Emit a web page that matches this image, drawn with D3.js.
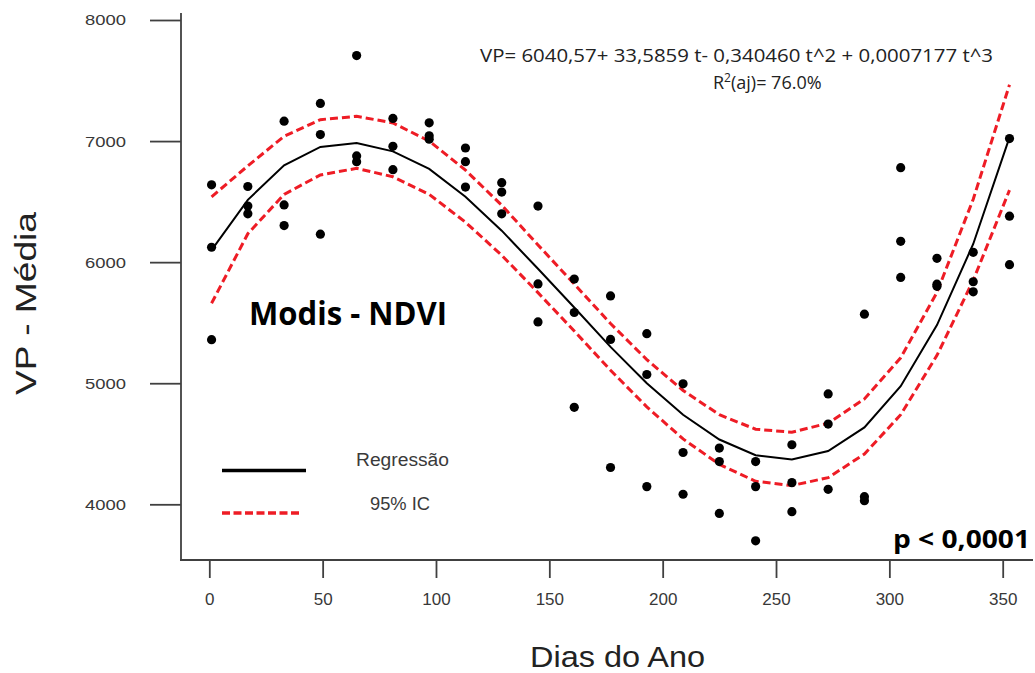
<!DOCTYPE html>
<html>
<head>
<meta charset="utf-8">
<script src="https://cdn.jsdelivr.net/npm/d3@7"></script>
<style>
  body { margin: 0; background: #fff; }
  svg { display: block; }
</style>
</head>
<body>
<svg id="chart" width="1035" height="673"></svg>
<script>
// days of the 16-day composites
const days = [1, 17, 33, 49, 65, 81, 97, 113, 129, 145, 161, 177, 193, 209, 225, 241, 257, 273, 289, 305, 321, 337, 353];

// observed VP values (three per day)
const vpObs = [
  [6639, 6123, 5360], [6625, 6463, 6399], [7164, 6473, 6302], [7311, 7054, 6231],
  [7706, 6877, 6830], [7187, 6957, 6764], [7151, 7043, 7015], [6943, 6830, 6620],
  [6656, 6579, 6399], [6463, 5820, 5506], [5860, 5584, 4801], [5721, 5362, 4304],
  [5409, 5072, 4146], [4995, 4428, 4083], [4464, 4353, 3925], [4353, 4146, 3698],
  [4492, 4179, 3939], [4912, 4663, 4124], [5570, 4063, 4030], [6780, 6172, 5874],
  [6032, 5818, 5800], [6081, 5838, 5755], [7021, 6380, 5979]
];

// regression line and 95% interval
const fitVals = [6100, 6515, 6800, 6952, 6984, 6915, 6770, 6540, 6260, 5945, 5625, 5300, 5000, 4740, 4535, 4405, 4370, 4440, 4635, 4975, 5480, 6150, 7030];
const upperCI = [6540, 6795, 7040, 7177, 7205, 7150, 7000, 6760, 6470, 6142, 5819, 5493, 5195, 4940, 4740, 4620, 4595, 4670, 4870, 5210, 5750, 6520, 7465];
const lowerCI = [5660, 6235, 6560, 6720, 6775, 6705, 6560, 6330, 6057, 5748, 5431, 5107, 4805, 4540, 4330, 4190, 4155, 4220, 4415, 4740, 5230, 5850, 6595];

const xTicks = [0, 50, 100, 150, 200, 250, 300, 350];
const yTicks = [4000, 5000, 6000, 7000, 8000];

const svg = d3.select('#chart');

const x = d3.scaleLinear().domain([0, 350]).range([209.3, 1002.7]);
const y = d3.scaleLinear().domain([4000, 8000]).range([504.3, 20]);

const axisColor = '#404040';

// axes
const yAxis = svg.append('g')
  .attr('transform', 'translate(181,0)')
  .call(d3.axisLeft(y).tickValues(yTicks).tickSize(31).tickPadding(24).tickFormat(d3.format('d')));
yAxis.select('.domain').remove();
yAxis.selectAll('line').attr('stroke', axisColor).attr('stroke-width', 1.8);
yAxis.selectAll('text')
  .attr('fill', '#383838')
  .style('font-family', 'Liberation Sans, Arial, sans-serif')
  .style('font-size', '15.5px')
  .attr('textLength', 41)
  .attr('lengthAdjust', 'spacingAndGlyphs');

const xAxis = svg.append('g')
  .attr('transform', 'translate(0,560)')
  .call(d3.axisBottom(x).tickValues(xTicks).tickSize(18).tickPadding(15));
xAxis.select('.domain').remove();
xAxis.selectAll('line').attr('stroke', axisColor).attr('stroke-width', 1.8);
xAxis.selectAll('text')
  .attr('fill', '#383838')
  .style('font-family', 'Liberation Sans, Arial, sans-serif')
  .style('font-size', '17px');

svg.append('line')
  .attr('x1', 181).attr('x2', 181).attr('y1', 13).attr('y2', 561)
  .attr('stroke', axisColor).attr('stroke-width', 1.8);
svg.append('line')
  .attr('x1', 180).attr('x2', 1033).attr('y1', 560).attr('y2', 560)
  .attr('stroke', axisColor).attr('stroke-width', 1.8);

// axis titles
svg.append('text')
  .attr('transform', 'translate(36,395) rotate(-90)')
  .attr('textLength', 183)
  .attr('lengthAdjust', 'spacingAndGlyphs')
  .style('font-family', 'Liberation Sans, Arial, sans-serif')
  .style('font-size', '30px')
  .attr('fill', '#222')
  .text('VP - Média');

svg.append('text')
  .attr('x', 530).attr('y', 667)
  .attr('textLength', 175)
  .attr('lengthAdjust', 'spacingAndGlyphs')
  .style('font-family', 'Liberation Sans, Arial, sans-serif')
  .style('font-size', '30px')
  .attr('fill', '#222')
  .text('Dias do Ano');

// regression + CI
const lineData = days.map((d, i) => ({ day: d, fit: fitVals[i], up: upperCI[i], lo: lowerCI[i] }));
const mkLine = (key) => d3.line().x(d => x(d.day)).y(d => y(d[key]));

svg.append('path')
  .datum(lineData)
  .attr('d', mkLine('up'))
  .attr('fill', 'none').attr('stroke', '#ee1c25').attr('stroke-width', 3).attr('stroke-dasharray', '8,4');
svg.append('path')
  .datum(lineData)
  .attr('d', mkLine('lo'))
  .attr('fill', 'none').attr('stroke', '#ee1c25').attr('stroke-width', 3).attr('stroke-dasharray', '8,4');
svg.append('path')
  .datum(lineData)
  .attr('d', mkLine('fit'))
  .attr('fill', 'none').attr('stroke', '#000').attr('stroke-width', 2);

// observed points
const points = days.flatMap((d, i) => vpObs[i].map(v => ({ day: d, vp: v })));
svg.append('g')
  .selectAll('circle')
  .data(points)
  .join('circle')
  .attr('cx', d => x(d.day))
  .attr('cy', d => y(d.vp))
  .attr('r', 4.6)
  .attr('fill', '#000');

// legend
svg.append('line')
  .attr('x1', 222).attr('x2', 306).attr('y1', 470.5).attr('y2', 470.5)
  .attr('stroke', '#000').attr('stroke-width', 3.3);
svg.append('line')
  .attr('x1', 222).attr('x2', 302).attr('y1', 513).attr('y2', 513)
  .attr('stroke', '#ee1c25').attr('stroke-width', 3.5).attr('stroke-dasharray', '8,3.5');

const legendFont = 'Liberation Sans, Arial, sans-serif';
svg.append('text')
  .attr('x', 356).attr('y', 466)
  .attr('textLength', 93).attr('lengthAdjust', 'spacingAndGlyphs')
  .style('font-family', legendFont).style('font-size', '18px')
  .attr('fill', '#3a3a3a')
  .text('Regressão');
svg.append('text')
  .attr('x', 370).attr('y', 510)
  .attr('textLength', 60).attr('lengthAdjust', 'spacingAndGlyphs')
  .style('font-family', legendFont).style('font-size', '18px')
  .attr('fill', '#3a3a3a')
  .text('95% IC');

// annotations
const noteFont = 'Open Sans, Noto Sans, sans-serif';
svg.append('text')
  .attr('x', 480).attr('y', 62)
  .attr('textLength', 513).attr('lengthAdjust', 'spacingAndGlyphs')
  .style('font-family', noteFont).style('font-size', '19px')
  .attr('fill', '#222')
  .text('VP= 6040,57+ 33,5859 t- 0,340460 t^2 + 0,0007177 t^3');

const r2 = svg.append('text')
  .attr('x', 713).attr('y', 89)
  .style('font-family', noteFont).style('font-size', '18px')
  .attr('fill', '#222');
r2.append('tspan').text('R');
r2.append('tspan').attr('dy', -7).style('font-size', '12px').text('2');
r2.append('tspan').attr('dy', 7).text('(aj)= 76.0%');

svg.append('text')
  .attr('x', 249).attr('y', 325)
  .attr('textLength', 198).attr('lengthAdjust', 'spacingAndGlyphs')
  .style('font-family', noteFont).style('font-size', '32px').style('font-weight', 'bold')
  .attr('fill', '#000')
  .text('Modis - NDVI');

svg.append('text')
  .attr('x', 893).attr('y', 548)
  .attr('textLength', 137).attr('lengthAdjust', 'spacingAndGlyphs')
  .style('font-family', noteFont).style('font-size', '25px').style('font-weight', 'bold')
  .attr('fill', '#000')
  .text('p < 0,0001');
</script>
</body>
</html>
